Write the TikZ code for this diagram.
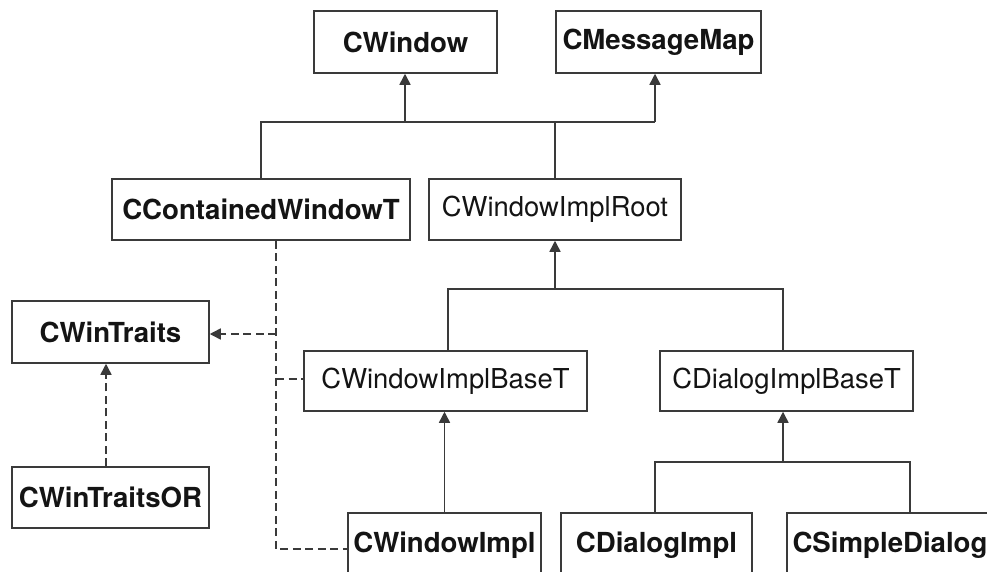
\documentclass[tikz,border=0pt]{standalone}
\usepackage{fontspec}
\setmainfont{TeX Gyre Heros}
\usetikzlibrary{arrows.meta,calc}

\definecolor{edge}{HTML}{3A3A3A}
\definecolor{ink}{HTML}{141414}

\tikzset{
  cls/.style={draw=edge, line width=1.5pt, rectangle, inner sep=0pt,
    text=ink, font=\fontsize{27.4}{33}\selectfont},
  clsb/.style={cls, font=\fontsize{27.6}{33}\selectfont\bfseries},
  conn/.style={draw=edge, line width=1.5pt},
  dep/.style={conn, dash pattern=on 8pt off 4.5pt},
  tip/.style={-{Triangle[width=11pt,length=11pt]}},
}

\begin{document}
\begin{tikzpicture}[x=1pt,y=-1pt]
\useasboundingbox (0,0) rectangle (987,571);
\clip (0,0) rectangle (987,571);

% class boxes
\node[clsb, minimum width=183pt, minimum height=62pt] (cw)   at (405.5,42)  {CWindow};
\node[clsb, minimum width=205pt, minimum height=62pt] (cmm)  at (658.5,42)  {CMessageMap};
\node[clsb, minimum width=298pt, minimum height=61pt] (cwt)  at (261,209.5) {CContainedWindowT};
\node[cls,  minimum width=252pt, minimum height=61pt] (root) at (555,209.5) {CWindowImplRoot};
\node[clsb, minimum width=197pt, minimum height=62pt] (tr)   at (110.5,332) {CWinTraits};
\node[cls,  minimum width=283pt, minimum height=60pt] (cwib) at (445.5,381) {CWindowImplBaseT};
\node[cls,  minimum width=253pt, minimum height=60pt] (cdib) at (786.5,381) {CDialogImplBaseT};
\node[clsb, minimum width=197pt, minimum height=61pt] (tor)  at (110.5,497.5) {CWinTraitsOR};
\node[clsb, minimum width=193pt, minimum height=64pt] (cwi)  at (444.5,545) {CWindowImpl};
\node[clsb, minimum width=191pt, minimum height=64pt] (cdi)  at (656.5,545) {CDialogImpl};
\node[clsb, minimum width=206pt, minimum height=64pt] (csd)  at (890,545)   {CSimpleDialog};

% bus points
\coordinate (b1l) at (405,122);
\coordinate (b1r) at (655,122);
\coordinate (b2l) at (448,289);
\coordinate (b2r) at (783,289);
\coordinate (b3l) at (655,462);
\coordinate (b3r) at (910,462);
\coordinate (d1) at (276,334);
\coordinate (d2) at (276,379);
\coordinate (d3) at (276,549);
\coordinate (dt) at (106,415);

% inheritance: CWindow / CMessageMap
\draw[conn] (cwt.north) |- (b1r);
\draw[conn] (root.north) -- (root.north |- b1l);
\draw[conn,tip] (b1l) -- (b1l |- cw.south);
\draw[conn,tip] (b1r) -- (b1r |- cmm.south);

% inheritance: CWindowImplRoot
\draw[conn] (b2l |- cwib.north) -- (b2l) -- (b2r) -- (b2r |- cdib.north);
\draw[conn,tip] (root.south |- b2l) -- (root.south);

% inheritance: CWindowImplBaseT
\draw[conn,tip] (cwi.north) -- (cwi.north |- cwib.south);

% inheritance: CDialogImplBaseT
\draw[conn] (b3l |- cdi.north) -- (b3l) -- (b3r) -- (b3r |- csd.north);
\draw[conn,tip] (b2r |- b3l) -- (b2r |- cdib.south);

% template parameter dependencies
\draw[dep] (d1 |- cwt.south) -- (d3) -- (d3 -| cwi.west);
\draw[dep,tip] (d1) -- (d1 -| tr.east);
\draw[dep] (d2) -- (d2 -| cwib.west);
\draw[dep,tip] (dt |- tor.north) -- (dt |- tr.south);
\end{tikzpicture}
\end{document}
